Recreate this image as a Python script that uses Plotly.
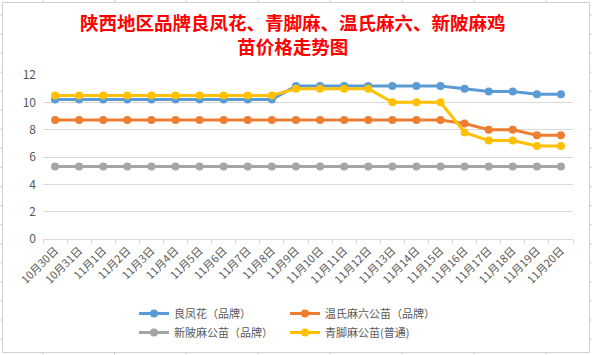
import plotly.graph_objects as go

categories = ["10月30日", "10月31日", "11月1日", "11月2日", "11月3日", "11月4日", "11月5日",
              "11月6日", "11月7日", "11月8日", "11月9日", "11月10日", "11月11日", "11月12日",
              "11月13日", "11月14日", "11月15日", "11月16日", "11月17日", "11月18日",
              "11月19日", "11月20日"]

liangfenghua = [10.2] * 10 + [11.2] * 7 + [11.0, 10.8, 10.8, 10.6, 10.6]
wenshi = [8.7] * 17 + [8.45, 8.0, 8.0, 7.6, 7.6]
xinpi = [5.3] * 22
qingjiao = [10.5] * 10 + [11.0] * 4 + [10.0] * 3 + [7.8, 7.2, 7.2, 6.8, 6.8]

names = ["良凤花（品牌）", "温氏麻六公苗（品牌）", "新陂麻公苗（品牌）", "青脚麻公苗(普通)"]
colors = ["#5B9BD5", "#ED7D31", "#A5A5A5", "#FFC000"]
series = [liangfenghua, wenshi, xinpi, qingjiao]
legend_ids = ["legend", "legend2", "legend", "legend2"]

title_text = "陕西地区品牌良凤花、青脚麻、温氏麻六、新陂麻鸡<br>苗价格走势图"

W, H = 592, 355
L, R, T, B = 43, 573, 75, 239  # plot area pixel box


def px(x):
    return (x - L) / (R - L)


def py(y):
    return (B - y) / (B - T)


def cx(x):
    return x / W


def cy(y):
    return 1 - y / H


FONT = "Noto Sans CJK SC, Microsoft YaHei, sans-serif"

fig = go.Figure()
for name, col, vals, lg in zip(names, colors, series, legend_ids):
    fig.add_trace(go.Scatter(
        x=categories, y=vals, name=name, mode="lines+markers",
        line=dict(color=col, width=3),
        marker=dict(color=col, size=8, line=dict(width=0)),
        legend=lg, cliponaxis=False,
    ))

shapes = []
# spreadsheet cell grid behind the chart
for xv in [43, 114.5, 186, 258, 330, 402, 474, 546]:
    shapes.append(dict(type="line", xref="paper", yref="paper", x0=px(xv), x1=px(xv),
                       y0=py(0), y1=py(H), line=dict(color="#d4d4d4", width=1), layer="below"))
for k in range(18):
    yv = 15 + k * 19.06
    shapes.append(dict(type="line", xref="paper", yref="paper", x0=px(0), x1=px(W),
                       y0=py(yv), y1=py(yv), line=dict(color="#d4d4d4", width=1), layer="below"))
# chart box
shapes.append(dict(type="rect", xref="paper", yref="paper", x0=px(2.5), x1=px(589.5),
                   y0=py(352.5), y1=py(2.5), fillcolor="white",
                   line=dict(color="#d0d0d0", width=1), layer="below"))

legend_common = dict(orientation="v", font=dict(size=11, color="#595959"),
                     bgcolor="rgba(0,0,0,0)", tracegroupgap=0, itemwidth=30,
                     xref="container", yref="container", xanchor="left", yanchor="top")

fig.update_layout(
    width=W, height=H,
    margin=dict(l=L, r=W - R, t=T, b=H - B, pad=0, autoexpand=False),
    paper_bgcolor="white", plot_bgcolor="rgba(0,0,0,0)",
    font=dict(family=FONT, color="#595959", size=12),
    shapes=shapes,
    showlegend=True,
    legend=dict(x=cx(134), y=cy(299), **legend_common),
    legend2=dict(x=cx(285), y=cy(299), **legend_common),
    annotations=[dict(text=title_text, xref="paper", yref="paper",
                      x=px(293), y=py(34), xanchor="center", yanchor="middle",
                      showarrow=False, align="center",
                      font=dict(family=FONT, size=18.5, color="#FF0000", weight="bold"))],
)
fig.update_xaxes(type="category", range=[-0.5, len(categories) - 0.5], automargin=False,
                 showgrid=False, showline=True, linecolor="#d9d9d9", linewidth=1,
                 ticks="outside", tickson="boundaries", ticklen=4, tickcolor="#d9d9d9",
                 tickangle=-45, tickfont=dict(size=11, color="#595959"), zeroline=False)
fig.update_yaxes(range=[0, 12], dtick=2, showgrid=True, gridcolor="#d9d9d9", gridwidth=1,
                 automargin=False, zeroline=False, showline=False, ticks="",
                 ticklabelstandoff=6, tickfont=dict(size=12, color="#595959"))

fig.write_html("out.html", config={"displayModeBar": False},
               post_script="document.body.style.margin='0';document.body.style.overflow='hidden';")
